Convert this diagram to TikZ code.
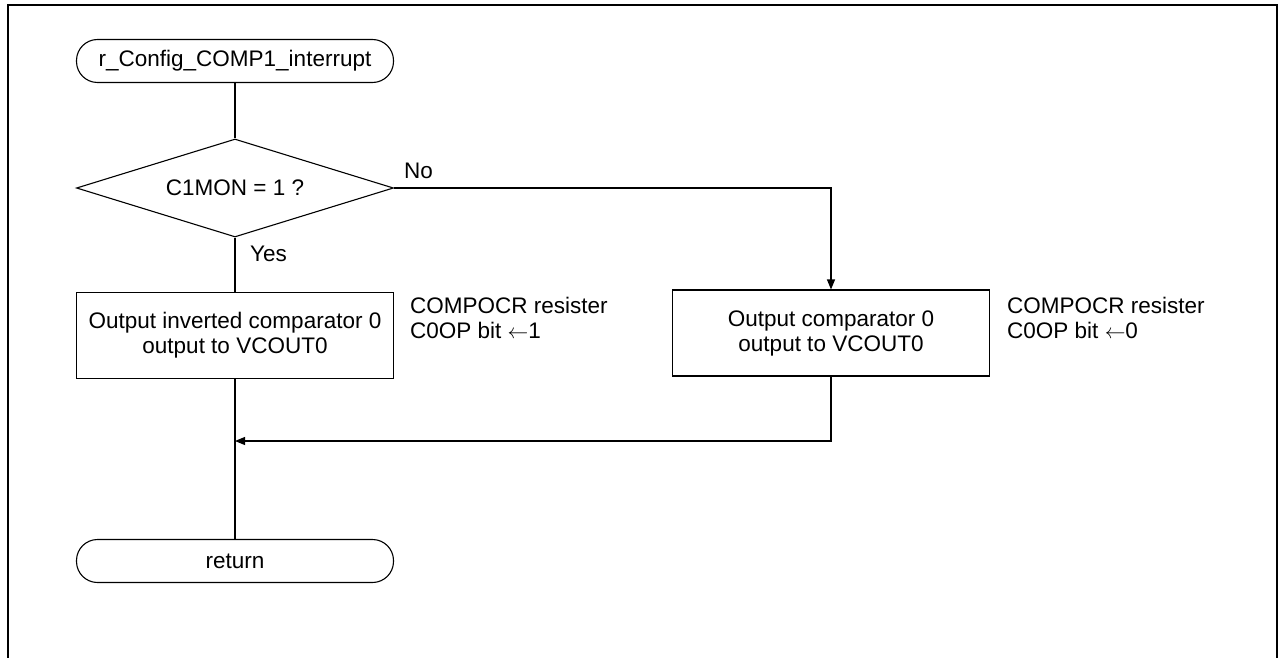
\documentclass[tikz,border=0pt]{standalone}
\usepackage{fontspec}
\setmainfont{Liberation Sans}
\usetikzlibrary{shapes.geometric,arrows.meta}
\begin{document}
\begin{tikzpicture}[x=1pt,y=-1pt,
  every node/.style={font=\fontsize{22.5}{25}\selectfont, inner sep=0pt},
  term/.style={draw, line width=1.1pt, rounded corners=21pt, minimum width=317pt, minimum height=43pt},
  proc/.style={draw, line width=1.1pt, minimum width=317pt, minimum height=86pt, align=center},
  dec/.style={draw, line width=1.1pt, diamond, aspect=3.2, minimum width=317pt, minimum height=98pt},
  conn/.style={line width=1.1pt},
  arr/.style={line width=1.1pt, -{Triangle[length=10pt,width=8pt]}},
  note/.style={anchor=base west, align=left}]
\useasboundingbox (0,0) rectangle (1279,658);
\draw[line width=1.1pt] (8,658) -- (8,5) -- (1277,5) -- (1277,658);
\node[term] (start) at (235,61) {r\_Config\_COMP1\_interrupt};
\node[dec] (d) at (235,188) {C1MON = 1 ?};
\node[proc] (p1) at (235,335.5) {Output inverted comparator 0\\output to VCOUT0};
\node[proc] (p2) at (831,333) {Output comparator 0\\output to VCOUT0};
\node[term] (ret) at (235,561) {return};
\node[note] (n1) at (410,338) {COMPOCR resister\\C0OP bit $\leftarrow$1};
\node[note] (n2) at (1007,338) {COMPOCR resister\\C0OP bit $\leftarrow$0};
\node[anchor=base west] (no) at (404,178) {No};
\node[anchor=base west] (yes) at (250,261) {Yes};
\coordinate (j) at (235,441);
\draw[conn] (start.south) -- (d.north);
\draw[conn] (d.south) -- (p1.north);
\draw[arr] (d.east) -| (p2.north);
\draw[conn] (p1.south) -- (ret.north);
\draw[arr] (p2.south) |- (j);
\end{tikzpicture}
\end{document}
